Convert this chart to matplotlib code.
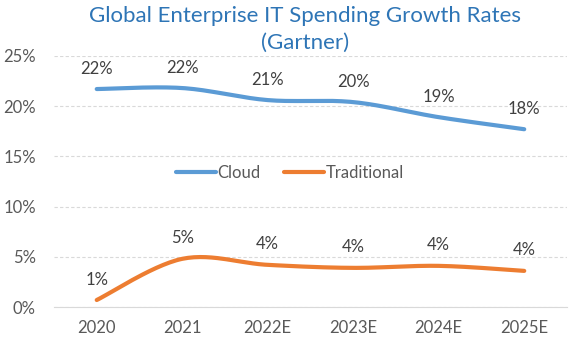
import numpy as np
import matplotlib.pyplot as plt
from matplotlib.ticker import PercentFormatter

# --- data ---
years = ['2020', '2021', '2022E', '2023E', '2024E', '2025E']
cloud = [21.7, 21.8, 20.6, 20.4, 18.9, 17.7]
traditional = [0.7, 4.8, 4.2, 3.9, 4.1, 3.6]

plt.rcParams['font.family'] = ['Lato', 'DejaVu Sans']


def smooth(xs, ys, n=30):
    # Excel-style smoothed line (Catmull-Rom style Bezier between points)
    xs = np.asarray(xs, float)
    ys = np.asarray(ys, float)
    px = np.concatenate([[xs[0]], xs, [xs[-1]]])
    py = np.concatenate([[ys[0]], ys, [ys[-1]]])
    t = np.linspace(0, 1, n)[:, None]
    out_x, out_y = [], []
    for i in range(1, len(px) - 2):
        p0 = np.array([px[i], py[i]])
        p3 = np.array([px[i + 1], py[i + 1]])
        c1 = p0 + (p3 - np.array([px[i - 1], py[i - 1]])) / 6
        c2 = p3 - (np.array([px[i + 2], py[i + 2]]) - p0) / 6
        b = ((1 - t) ** 3) * p0 + 3 * ((1 - t) ** 2) * t * c1 + 3 * (1 - t) * t ** 2 * c2 + t ** 3 * p3
        out_x.extend(b[:, 0])
        out_y.extend(b[:, 1])
    return out_x, out_y


fig = plt.figure(figsize=(5.73, 3.45), dpi=100)
ax = fig.add_axes([0.0942, 0.110, 0.8953, 0.728])

x = np.arange(len(years))
sx, sy = smooth(x, cloud)
ax.plot(sx, sy, color='#5B9BD5', lw=3, solid_capstyle='round', label='Cloud')
sx, sy = smooth(x, traditional)
ax.plot(sx, sy, color='#ED7D31', lw=3, solid_capstyle='round', label='Traditional')

for xi, v in zip(x, cloud):
    ax.annotate(f'{v:.0f}%', (xi, v), xytext=(0, 9), textcoords='offset points',
                ha='center', va='bottom', fontsize=12, color='#404040')
for xi, v in zip(x, traditional):
    ax.annotate(f'{v:.0f}%', (xi, v), xytext=(0, 9), textcoords='offset points',
                ha='center', va='bottom', fontsize=12, color='#404040')

ax.set_xlim(-0.5, len(years) - 0.5)
ax.set_ylim(0, 25)
ax.set_yticks(range(0, 26, 5))
ax.yaxis.set_major_formatter(PercentFormatter(decimals=0))
ax.set_xticks(x)
ax.set_xticklabels(years)
ax.tick_params(length=0, labelsize=12, labelcolor='#595959')
ax.tick_params(axis='x', pad=9)
ax.tick_params(axis='y', pad=13)

ax.grid(axis='y', color='#D9D9D9', linestyle=(0, (3, 2)), lw=0.8)
for s in ['top', 'right', 'left']:
    ax.spines[s].set_visible(False)
ax.spines['bottom'].set_color('#D9D9D9')

ax.legend(loc='center', bbox_to_anchor=(0.46, 0.535), ncol=2, frameon=False,
          fontsize=12, labelcolor='#595959', handlelength=2.4,
          handletextpad=0.1, columnspacing=1.4)

fig.text(0.532, 0.982, 'Global Enterprise IT Spending Growth Rates\n(Gartner)',
         ha='center', va='top', fontsize=16, color='#2E75B6', linespacing=1.4)

fig.savefig('out.png', dpi=100)
